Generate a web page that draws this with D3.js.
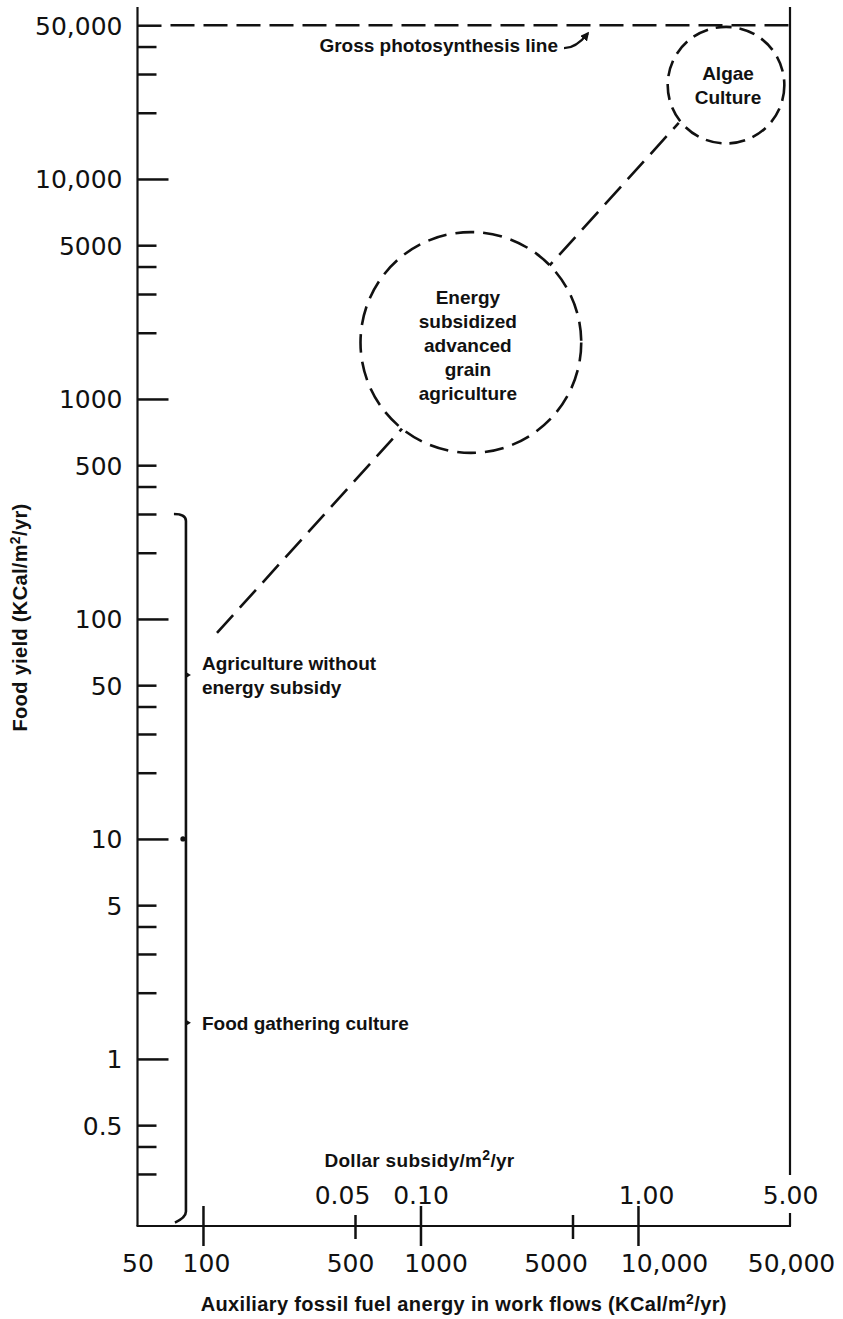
<!DOCTYPE html>
<html><head><meta charset="utf-8">
<script src="https://cdn.jsdelivr.net/npm/d3@7/dist/d3.min.js"></script>
<style>
html,body{margin:0;padding:0;background:#fff;}
svg{display:block;background:#fff;}
.ann{font-family:"Liberation Sans",Arial,sans-serif;font-weight:bold;font-size:19px;fill:#111;}
.ttl{font-family:"Liberation Sans",Arial,sans-serif;font-weight:bold;font-size:20px;letter-spacing:0.35px;fill:#111;}
.num{font-family:"DejaVu Sans",sans-serif;font-size:25px;fill:#111;}
</style></head><body>
<svg id="chart" width="843" height="1319"></svg>
<script>
// ---------------- data ----------------
const energyDomain = [50, 50000];          // auxiliary energy, KCal/m2/yr
const yieldDomain = [0.174, 60500];        // food yield, KCal/m2/yr
const yMajorTicks = [0.5, 1, 5, 10, 50, 100, 500, 1000, 5000, 10000, 50000];
const yTickLabels = ["0.5", "1", "5", "10", "50", "100", "500", "1000", "5000", "10,000", "50,000"];
const yMinorTicks = [0.3, 0.4, 2, 3, 4, 20, 30, 40, 200, 300, 400, 2000, 3000, 4000, 20000, 30000, 40000];
const xTicks = [50, 100, 500, 1000, 5000, 10000, 50000];
const xTickLabels = ["50", "100", "500", "1000", "5000", "10,000", "50,000"];
const dollarTicks = [500, 1000, 10000, 50000];     // energy equivalent of dollar subsidy
const dollarLabels = ["0.05", "0.10", "1.00", "5.00"];
const grossPhotosynthesis = 50000;
const circleEnergy = [25400, 1705];
const circleYield = [26700, 1806];
const circleLeftEnergy = [13700, 530];
const circleLines = [["Algae", "Culture"], ["Energy", "subsidized", "advanced", "grain", "agriculture"]];
const trendEnergy = [116, 15400];
const trendYield = [86.4, 18000];
const bracketEnergy = 83.5;
const bracketYield = [0.19, 300];
const bracketMarkYield = [55.6, 10, 1.46];
const bracketLabels = [["Agriculture without", "energy subsidy"], null, ["Food gathering culture"]];

// ---------------- drawing ----------------
const ink = "#111";
const svg = d3.select("#chart");
const x = d3.scaleLog().domain(energyDomain).range([137.5, 790]);
const y = d3.scaleLog().domain(yieldDomain).range([1226, 7]);
const X0 = x(energyDomain[0]), X1 = x(energyDomain[1]);
const Y0 = y(yieldDomain[0]), YT = y(yieldDomain[1]);
const isDecade = d => Math.abs(Math.log10(d) - Math.round(Math.log10(d))) < 1e-9;

function withSup(textSel, before, sup, after) {
  textSel.append("tspan").text(before);
  textSel.append("tspan").attr("dy", -7).attr("font-size", "14px").text(sup);
  textSel.append("tspan").attr("dy", 7).text(after);
}

// Y axis
const yAll = yMajorTicks.concat(yMinorTicks);
const gy = svg.append("g").attr("transform", `translate(${X0},0)`)
  .call(d3.axisLeft(y).tickValues(yAll).tickSize(-19).tickPadding(15)
    .tickFormat(d => { const i = yMajorTicks.indexOf(d); return i >= 0 ? yTickLabels[i] : ""; }));
gy.select(".domain").remove();
gy.attr("font-family", null).attr("font-size", null);
gy.selectAll(".tick line").attr("stroke", ink).attr("stroke-width", 2.5)
  .attr("x2", d => isDecade(d) ? 31 : (d === 50000 ? 24 : 19));
gy.selectAll(".tick text").attr("class", "num").attr("fill", ink).attr("dy", "0.36em");
svg.append("line").attr("x1", X0).attr("x2", X0).attr("y1", YT).attr("y2", Y0)
  .attr("stroke", ink).attr("stroke-width", 2.2);

// X axis (energy)
const xNudge = [0, 3, -5, 15, -17, 26, 1];
const gx = svg.append("g").attr("transform", `translate(0,${Y0})`)
  .call(d3.axisBottom(x).tickValues(xTicks).tickSize(0)
    .tickFormat((d, i) => xTickLabels[i]));
gx.select(".domain").remove();
gx.attr("font-family", null).attr("font-size", null);
gx.selectAll(".tick line").attr("stroke", ink).attr("stroke-width", 2.5)
  .attr("y1", d => isDecade(d) ? -20 : -11)
  .attr("y2", d => isDecade(d) ? 20 : 13)
  .attr("display", d => (d === energyDomain[0] || d === energyDomain[1]) ? "none" : null);
gx.selectAll(".tick text").attr("class", "num").attr("fill", ink)
  .attr("y", 37).attr("dy", "0.36em").attr("dx", (d, i) => xNudge[i]);
svg.append("line").attr("x1", X0 - 1).attr("x2", X1 + 1).attr("y1", Y0).attr("y2", Y0)
  .attr("stroke", ink).attr("stroke-width", 2.2);

// Dollar subsidy scale
const dNudge = [-13, 0, 8, 0];
const gd = svg.append("g").attr("transform", `translate(0,${Y0})`)
  .call(d3.axisTop(x).tickValues(dollarTicks).tickSize(0)
    .tickFormat((d, i) => dollarLabels[i]));
gd.select(".domain").remove();
gd.attr("font-family", null).attr("font-size", null);
gd.selectAll(".tick text").attr("class", "num").attr("fill", ink)
  .attr("y", -31).attr("dy", "0.36em").attr("dx", (d, i) => dNudge[i]);
const dt = svg.append("text").attr("class", "ann").attr("x", x(1000) - 1).attr("y", Y0 - 66)
  .attr("dy", "0.36em").attr("text-anchor", "middle").attr("letter-spacing", "0.3px");
withSup(dt, "Dollar subsidy/m", "2", "/yr");

// right border
svg.append("line").attr("x1", X1).attr("x2", X1).attr("y1", YT).attr("y2", Y0 - 51)
  .attr("stroke", ink).attr("stroke-width", 2.2);
svg.append("line").attr("x1", X1).attr("x2", X1).attr("y1", Y0 - 13).attr("y2", Y0)
  .attr("stroke", ink).attr("stroke-width", 2.2);

// gross photosynthesis line
const yg = y(grossPhotosynthesis);
svg.append("line").attr("x1", X0 + 33).attr("x2", X1).attr("y1", yg).attr("y2", yg)
  .attr("stroke", ink).attr("stroke-width", 2.5).attr("stroke-dasharray", "24,9");
svg.append("text").attr("class", "ann").attr("x", 558).attr("y", yg + 20)
  .attr("dy", "0.36em").attr("text-anchor", "end").text("Gross photosynthesis line");
svg.append("defs").append("marker").attr("id", "ah").attr("viewBox", "0 0 10 10")
  .attr("refX", 8).attr("refY", 5).attr("markerWidth", 4).attr("markerHeight", 4)
  .attr("orient", "auto").append("path").attr("d", "M0,0 L10,5 L0,10 Z").attr("fill", ink);
svg.append("path")
  .attr("d", `M564,${yg + 23} Q576,${yg + 23} 588,${yg + 8}`)
  .attr("fill", "none").attr("stroke", ink).attr("stroke-width", 2.2).attr("marker-end", "url(#ah)");

// trend dashed line
svg.append("line")
  .attr("x1", x(trendEnergy[0])).attr("y1", y(trendYield[0]))
  .attr("x2", x(trendEnergy[1])).attr("y2", y(trendYield[1]))
  .attr("stroke", ink).attr("stroke-width", 2.6).attr("stroke-dasharray", "24,10");

// circles
const dashes = ["16,8", "19,9"];
circleEnergy.forEach((e, i) => {
  const cx = x(e), cy = y(circleYield[i]);
  const r = cx - x(circleLeftEnergy[i]);
  svg.append("circle").attr("cx", cx).attr("cy", cy).attr("r", r)
    .attr("fill", "#fff").attr("stroke", ink).attr("stroke-width", 2.6)
    .attr("stroke-dasharray", dashes[i]);
  const lines = circleLines[i];
  const shift = i === 1 ? 2.5 : 0;
  const t = svg.append("text").attr("class", "ann").attr("text-anchor", "middle");
  lines.forEach((s, k) => {
    t.append("tspan").attr("x", cx + (i === 1 ? -3 : 2))
      .attr("y", cy + shift + (k - (lines.length - 1) / 2) * 24)
      .attr("dy", "0.36em").text(s);
  });
});

// bracket
const bx = x(bracketEnergy), bTop = y(bracketYield[1]), bBot = y(bracketYield[0]);
svg.append("path")
  .attr("d", `M${bx - 12},${bTop} Q${bx},${bTop} ${bx},${bTop + 7} L${bx},${bBot - 6} Q${bx},${bBot} ${bx - 11},${bBot + 5}`)
  .attr("fill", "none").attr("stroke", ink).attr("stroke-width", 2.6);
bracketMarkYield.forEach((v, i) => {
  const yy = y(v);
  if (bracketLabels[i]) {
    svg.append("path").attr("d", `M${bx},${yy - 3} L${bx + 5},${yy} L${bx},${yy + 3} Z`).attr("fill", ink);
    const lines = bracketLabels[i];
    const t = svg.append("text").attr("class", "ann");
    lines.forEach((s, k) => {
      t.append("tspan").attr("x", bx + 16)
        .attr("y", yy + (k - (lines.length - 1) / 2) * 24).attr("dy", "0.36em").text(s);
    });
  } else {
    svg.append("circle").attr("cx", bx - 3).attr("cy", yy).attr("r", 2.6).attr("fill", ink);
  }
});

// axis titles
const xt = svg.append("text").attr("class", "ttl").attr("x", (X0 + X1) / 2).attr("y", 1304)
  .attr("dy", "0.36em").attr("text-anchor", "middle");
withSup(xt, "Auxiliary fossil fuel anergy in work flows (KCal/m", "2", "/yr)");

const yt = svg.append("text").attr("class", "ttl")
  .attr("transform", `translate(20,${(YT + Y0) / 2 + 1}) rotate(-90)`)
  .attr("dy", "0.36em").attr("text-anchor", "middle");
withSup(yt, "Food yield (KCal/m", "2", "/yr)");
</script>
</body></html>
